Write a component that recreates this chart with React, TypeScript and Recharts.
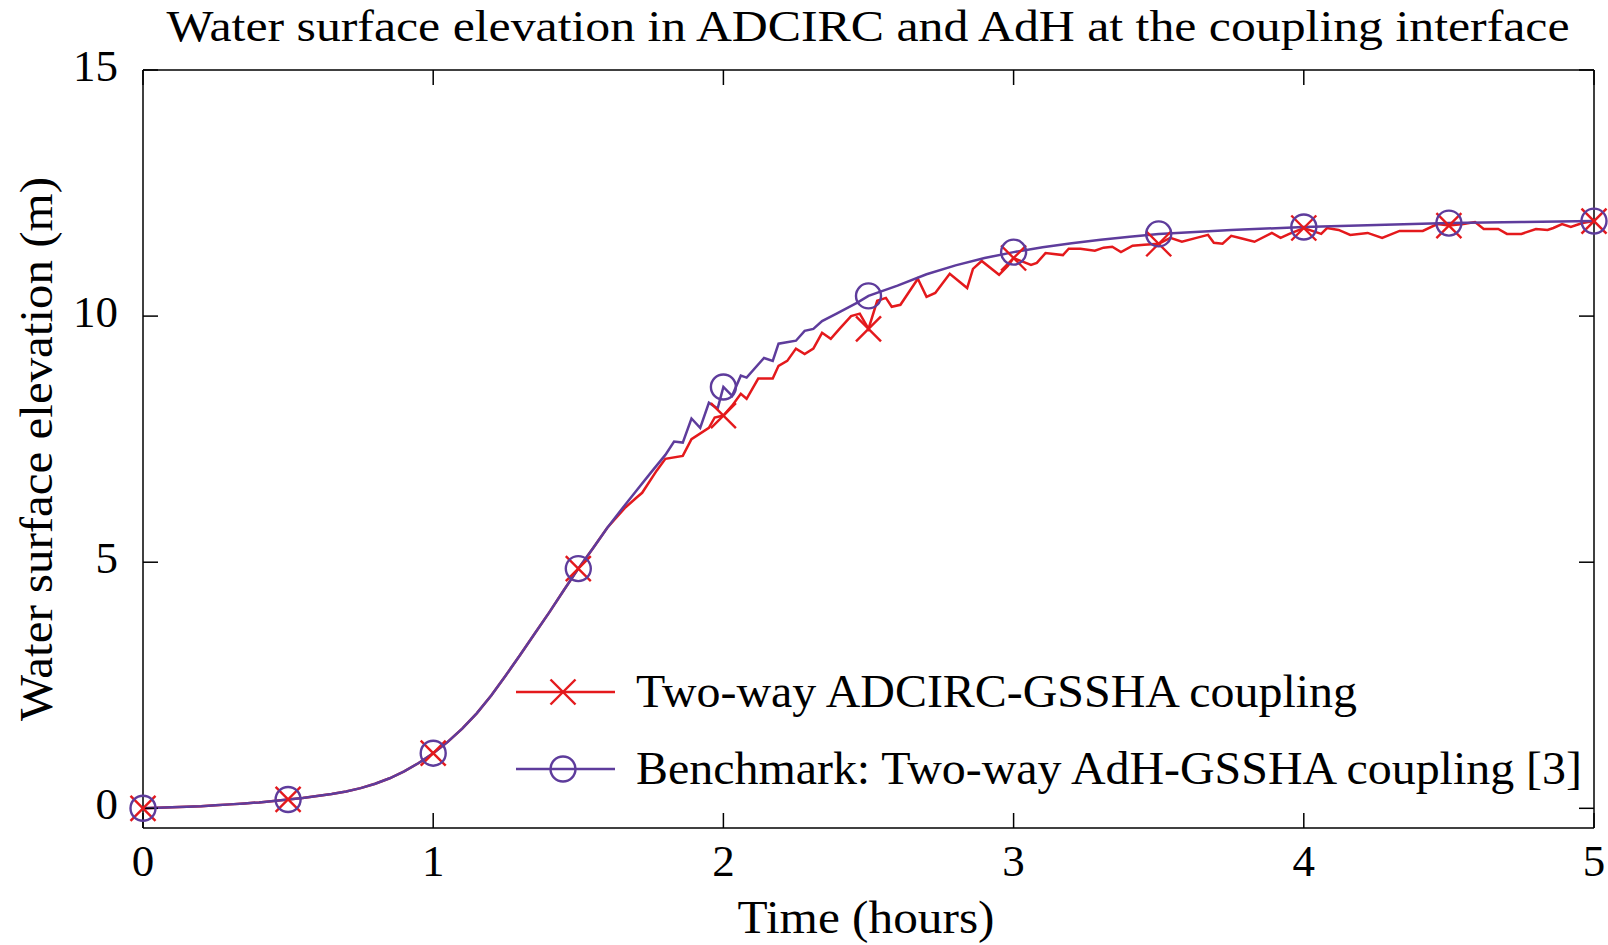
import { LineChart, Line, XAxis, YAxis, Legend } from "recharts";

const FONT = "'Liberation Serif', 'Times New Roman', serif";
const RED = "#e4191c";
const PURPLE = "#5e3c9c";

// benchmark (AdH-GSSHA)
const blueTime = [
  0, 0.05, 0.1, 0.15, 0.2, 0.25, 0.3, 0.35, 0.4, 0.45, 0.5, 0.55, 0.6, 0.65, 0.7, 0.75, 0.8, 0.85, 0.9, 0.95,
  1.0, 1.05, 1.1, 1.15, 1.2, 1.25, 1.3, 1.35, 1.4, 1.45, 1.5, 1.55, 1.6, 1.65, 1.7, 1.75, 1.8,
  1.83, 1.86, 1.89, 1.92, 1.95, 1.98, 2.0, 2.03, 2.06, 2.08, 2.14, 2.17, 2.19, 2.25, 2.28, 2.31, 2.34, 2.39, 2.46,
  2.5, 2.6, 2.7, 2.8, 2.9, 3.0, 3.1, 3.2, 3.3, 3.4, 3.5, 3.75, 4.0, 4.25, 4.5, 4.75, 5.0,
];
const blueLevel = [
  0, 0.01, 0.02, 0.03, 0.04, 0.06, 0.08, 0.1, 0.12, 0.15, 0.18, 0.21, 0.25, 0.29, 0.34, 0.41, 0.5, 0.61, 0.75, 0.92,
  1.12, 1.35, 1.62, 1.93, 2.29, 2.7, 3.12, 3.55, 3.98, 4.43, 4.87, 5.28, 5.7, 6.08, 6.45, 6.82, 7.18,
  7.45, 7.43, 7.92, 7.73, 8.24, 8.12, 8.56, 8.38, 8.79, 8.75, 9.15, 9.09, 9.44, 9.5, 9.7, 9.74, 9.9, 10.05, 10.27,
  10.41, 10.62, 10.85, 11.03, 11.18, 11.3, 11.4, 11.48, 11.55, 11.61, 11.67, 11.75, 11.81, 11.85, 11.89, 11.91, 11.93,
];

// two-way ADCIRC-GSSHA coupling
const redTime = [
  0, 0.05, 0.1, 0.15, 0.2, 0.25, 0.3, 0.35, 0.4, 0.45, 0.5, 0.55, 0.6, 0.65, 0.7, 0.75, 0.8, 0.85, 0.9, 0.95,
  1.0, 1.05, 1.1, 1.15, 1.2, 1.25, 1.3, 1.35, 1.4, 1.45, 1.5, 1.55, 1.6,
  1.66, 1.7, 1.72, 1.77, 1.8, 1.86, 1.89, 1.95, 1.97, 2.0, 2.03, 2.06, 2.08, 2.12, 2.17, 2.19, 2.22, 2.25, 2.28,
  2.31, 2.34, 2.37, 2.4, 2.44, 2.47, 2.5, 2.53, 2.56, 2.58, 2.61, 2.67, 2.7, 2.73, 2.78, 2.84, 2.86, 2.89, 2.95,
  2.98, 3.0, 3.06, 3.08, 3.11, 3.17, 3.19, 3.23, 3.28, 3.31, 3.34, 3.37, 3.41, 3.45, 3.5, 3.54, 3.58, 3.63, 3.67,
  3.69, 3.72, 3.75, 3.79, 3.83, 3.89, 3.92, 3.95, 4.0, 4.06, 4.08, 4.12, 4.16, 4.22, 4.27, 4.33, 4.41, 4.46, 4.5,
  4.55, 4.59, 4.62, 4.67, 4.7, 4.75, 4.8, 4.84, 4.86, 4.89, 4.92, 4.96, 5.0,
];
const redLevel = [
  0, 0.01, 0.02, 0.03, 0.04, 0.06, 0.08, 0.1, 0.12, 0.15, 0.18, 0.21, 0.25, 0.29, 0.34, 0.41, 0.5, 0.61, 0.75, 0.92,
  1.12, 1.35, 1.62, 1.93, 2.29, 2.7, 3.12, 3.55, 3.98, 4.43, 4.87, 5.28, 5.7,
  6.1, 6.31, 6.41, 6.86, 7.1, 7.16, 7.5, 7.73, 7.94, 7.98, 8.18, 8.42, 8.32, 8.73, 8.73, 8.99, 9.09, 9.34, 9.23,
  9.34, 9.66, 9.54, 9.74, 10.0, 10.05, 9.74, 10.31, 10.37, 10.19, 10.23, 10.76, 10.39, 10.47, 10.86, 10.57, 10.96, 11.12, 10.84,
  11.02, 11.18, 11.04, 11.08, 11.28, 11.24, 11.37, 11.37, 11.33, 11.39, 11.41, 11.3, 11.43, 11.45, 11.47, 11.59, 11.51, 11.59, 11.65,
  11.49, 11.47, 11.63, 11.57, 11.51, 11.69, 11.59, 11.67, 11.79, 11.67, 11.79, 11.75, 11.65, 11.69, 11.59, 11.73, 11.73, 11.87, 11.84,
  11.87, 11.91, 11.77, 11.77, 11.67, 11.67, 11.77, 11.75, 11.79, 11.87, 11.81, 11.89, 11.93,
];

const xTicks = [0, 1, 2, 3, 4, 5];
const yTicks = [0, 5, 10, 15];
const redName = "Two-way ADCIRC-GSSHA coupling";
const blueName = "Benchmark: Two-way AdH-GSSHA coupling [3]";
const legendOrder = [redName, blueName];

const redData = redTime.map((t, i) => ({ t, v: redLevel[i] }));
const blueData = blueTime.map((t, i) => ({ t, v: blueLevel[i] }));

const onMark = (t: number) => Math.abs(t * 2 - Math.round(t * 2)) < 1e-6;

function Cross({ cx, cy, color }: { cx: number; cy: number; color: string }) {
  const s = 12.5;
  return (
    <g>
      <line x1={cx - s} y1={cy - s} x2={cx + s} y2={cy + s} stroke={color} strokeWidth={2.4} />
      <line x1={cx - s} y1={cy + s} x2={cx + s} y2={cy - s} stroke={color} strokeWidth={2.4} />
    </g>
  );
}

function Ring({ cx, cy, color }: { cx: number; cy: number; color: string }) {
  return <circle cx={cx} cy={cy} r={12.5} fill="none" stroke={color} strokeWidth={2.4} />;
}

const crossDot = (p: any) => (
  <g key={`x${p.index}`}>{onMark(p.payload.t) && <Cross cx={p.cx} cy={p.cy} color={RED} />}</g>
);
const ringDot = (p: any) => (
  <g key={`o${p.index}`}>{onMark(p.payload.t) && <Ring cx={p.cx} cy={p.cy} color={PURPLE} />}</g>
);

// tick labels off, tick marks kept (used by the mirrored frame axes)
const noLabel = (p: any) => <g key={`n${p.index}`} />;

const legendWidths: Record<string, number> = { [redName]: 721, [blueName]: 946 };

function LegendBox(props: any) {
  const items = (props.payload || []).filter((e: any) => legendOrder.includes(e.value));
  items.sort((a: any, b: any) => legendOrder.indexOf(a.value) - legendOrder.indexOf(b.value));
  return (
    <svg width={1100} height={160} style={{ overflow: "visible" }}>
      {items.map((e: any, i: number) => {
        const y = 42 + i * 77;
        const isRed = e.value === redName;
        const c = isRed ? RED : PURPLE;
        return (
          <g key={e.value}>
            <line x1={16} x2={115} y1={y} y2={y} stroke={c} strokeWidth={2.4} />
            {isRed ? <Cross cx={63} cy={y} color={c} /> : <Ring cx={63} cy={y} color={c} />}
            <text x={136} y={y + 15} fontFamily={FONT} fontSize={46} fill="#000"
              textLength={legendWidths[e.value]} lengthAdjust="spacingAndGlyphs">{e.value}</text>
          </g>
        );
      })}
    </svg>
  );
}

const frame = { stroke: "#000", strokeWidth: 1.5 };
const tickFont = { fontSize: 45, fill: "#000", fontFamily: FONT };

export default function App() {
  return (
    <div style={{ position: "absolute", left: 0, top: 0, background: "#fff" }}>
      <LineChart width={1608} height={945} margin={{ top: 70, right: 14, bottom: 27, left: 63 }}>
        <text x={868} y={41} textAnchor="middle" fontFamily={FONT} fontSize={45} fill="#000"
          textLength={1403} lengthAdjust="spacingAndGlyphs">
          Water surface elevation in ADCIRC and AdH at the coupling interface
        </text>
        <XAxis xAxisId="b" type="number" dataKey="t" domain={[0, 5]} ticks={xTicks}
          orientation="bottom" height={90} tickLine={false} tickSize={0} tickMargin={16}
          axisLine={frame} tick={tickFont}
          label={{
            content: () => (
              <text x={866} y={933} textAnchor="middle" fontFamily={FONT} fontSize={46} fill="#000"
                textLength={257} lengthAdjust="spacingAndGlyphs">Time (hours)</text>
            ),
          }} />
        <XAxis xAxisId="bm" type="number" dataKey="t" domain={[0, 5]} ticks={xTicks}
          orientation="bottom" mirror tick={noLabel} tickSize={15} tickLine={frame} axisLine={false} />
        <XAxis xAxisId="tm" type="number" dataKey="t" domain={[0, 5]} ticks={xTicks}
          orientation="top" mirror tick={noLabel} tickSize={15} tickLine={frame} axisLine={frame} />
        <YAxis yAxisId="l" type="number" domain={[-0.4, 15]} ticks={yTicks}
          orientation="left" width={80} tickLine={false} tickSize={0} tickMargin={25}
          axisLine={frame} tick={{ ...tickFont, dy: -5 }}
          label={{
            content: () => (
              <text x={52} y={449} transform="rotate(-90 52 449)" textAnchor="middle" fontFamily={FONT}
                fontSize={46} fill="#000" textLength={544} lengthAdjust="spacingAndGlyphs">
                Water surface elevation (m)
              </text>
            ),
          }} />
        <YAxis yAxisId="lm" type="number" domain={[-0.4, 15]} ticks={yTicks}
          orientation="left" mirror tick={noLabel} tickSize={15} tickLine={frame} axisLine={false} />
        <YAxis yAxisId="rm" type="number" domain={[-0.4, 15]} ticks={yTicks}
          orientation="right" mirror tick={noLabel} tickSize={15} tickLine={frame} axisLine={frame} />
        <Legend layout="vertical" align="center" verticalAlign="middle" content={LegendBox}
          wrapperStyle={{ left: 500, top: 650, width: 1100, height: 160 }} />
        {/* invisible carriers so the mirrored frame axes get drawn */}
        <Line xAxisId="bm" yAxisId="lm" data={redData} dataKey="v" name="frame-a" stroke="none"
          dot={false} activeDot={false} legendType="none" isAnimationActive={false} />
        <Line xAxisId="tm" yAxisId="rm" data={redData} dataKey="v" name="frame-b" stroke="none"
          dot={false} activeDot={false} legendType="none" isAnimationActive={false} />
        <Line xAxisId="b" yAxisId="l" data={redData} dataKey="v" name={redName} type="linear"
          stroke={RED} strokeWidth={2.5} dot={crossDot} activeDot={false} isAnimationActive={false} />
        <Line xAxisId="b" yAxisId="l" data={blueData} dataKey="v" name={blueName} type="linear"
          stroke={PURPLE} strokeWidth={2.5} dot={ringDot} activeDot={false} isAnimationActive={false} />
      </LineChart>
    </div>
  );
}
